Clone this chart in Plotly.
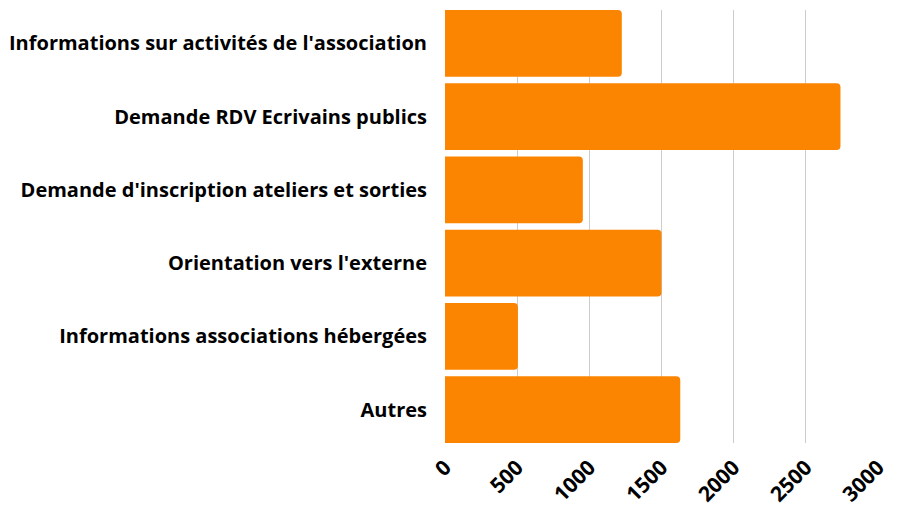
import plotly.graph_objects as go

categories = [
    "Informations sur activités de l'association",
    "Demande RDV Ecrivains publics",
    "Demande d'inscription ateliers et sorties",
    "Orientation vers l'externe",
    "Informations associations hébergées",
    "Autres",
]
values = [1225, 2740, 955, 1500, 505, 1630]
tick_vals = [0, 500, 1000, 1500, 2000, 2500, 3000]

gap = 0.09
fig = go.Figure(go.Bar(
    x=values, y=categories, orientation="h",
    marker=dict(color="#FB8500", line=dict(width=0)),
))
fig.update_layout(
    width=898, height=509,
    margin=dict(l=437, r=28, t=2, b=74),
    paper_bgcolor="white", plot_bgcolor="white",
    bargap=gap, barcornerradius=4,
    font=dict(family="Open Sans", size=17, color="black"),
    showlegend=False,
)
fig.update_xaxes(
    range=[0, 3000], tickvals=tick_vals, tickangle=-45,
    showgrid=True, gridcolor="#cccccc", gridwidth=1,
    zeroline=False, showline=False, automargin=False,
    ticklabelstandoff=7,
    tickfont=dict(family="Open Sans", size=21, color="black", weight="bold"),
)
fig.update_yaxes(
    range=[len(categories) - 0.5 - gap / 2, -0.5 + gap / 2],
    showgrid=False, showline=False, automargin=False,
    ticklabelstandoff=17,
    tickfont=dict(family="Open Sans", size=20, color="black", weight="bold"),
)
fig.write_html("out.html")
